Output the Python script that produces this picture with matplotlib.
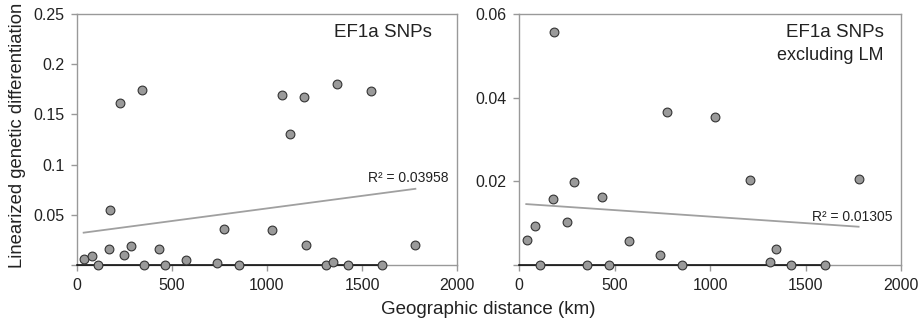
import matplotlib
matplotlib.use("Agg")
import matplotlib.pyplot as plt
import numpy as np

plt.rcParams['font.family'] = ['Liberation Sans', 'DejaVu Sans']

# Left panel: all EF1a SNPs
left_x = [35, 79, 109, 168, 175, 226, 249, 284, 344, 351, 432, 461, 574, 735,
          774, 851, 1026, 1081, 1119, 1196, 1207, 1311, 1349, 1368, 1428, 1547,
          1605, 1781]
left_y = [0.006, 0.0093, 0.0, 0.0156, 0.055, 0.161, 0.010, 0.019, 0.174, 0.0,
          0.016, 0.0, 0.0053, 0.0017, 0.0358, 0.0, 0.035, 0.169, 0.130, 0.1674,
          0.020, 0.0, 0.0033, 0.180, 0.0, 0.173, 0.0, 0.020]
left_trend_x = [35, 1781]
left_trend_y = [0.0322, 0.0759]
left_r2 = "R² = 0.03958"
left_ticks_y = [0.05, 0.1, 0.15, 0.2, 0.25]
left_ticklabels_y = ["0.05", "0.1", "0.15", "0.2", "0.25"]

# Right panel: excluding LM
right_x = [42, 86, 112, 176, 182, 253, 288, 355, 433, 470, 576, 737, 776, 854,
           1027, 1207, 1312, 1348, 1425, 1603, 1780]
right_y = [0.00605, 0.0094, 0.0, 0.0157, 0.0556, 0.0102, 0.0199, 0.0, 0.0162,
           0.0, 0.0058, 0.0025, 0.0366, 0.0, 0.0353, 0.0204, 0.0006, 0.0039,
           0.0, 0.0, 0.0206]
right_trend_x = [38, 1778]
right_trend_y = [0.01456, 0.00915]
right_r2 = "R² = 0.01305"
right_ticks_y = [0.02, 0.04, 0.06]
right_ticklabels_y = ["0.02", "0.04", "0.06"]

x_ticks = [0, 500, 1000, 1500, 2000]
zero_line_end = 1605

fig = plt.figure(figsize=(9.19, 3.26), dpi=100)
ax1 = fig.add_axes([77/919, 1 - 265/326, 380/919, 251/326])
ax2 = fig.add_axes([519/919, 1 - 265/326, 382/919, 251/326])

frame_col = '#999999'
text_col = '#222222'

def style(ax, ymax, yticks, ylabels):
    ax.set_xlim(0, 2000)
    ax.set_ylim(0, ymax)
    ax.set_xticks(x_ticks)
    ax.set_xticklabels([str(t) for t in x_ticks])
    ax.set_yticks([0] + yticks)
    ax.set_yticklabels([""] + ylabels)
    for s in ax.spines.values():
        s.set_color(frame_col)
        s.set_linewidth(1.0)
    ax.tick_params(direction='out', length=4, color=frame_col, width=1.0,
                   labelsize=11.5, labelcolor=text_col, pad=5)

def panel(ax, xs, ys, tx, ty, r2, r2x, r2y):
    ax.plot([0, zero_line_end], [0, 0], color='black', lw=1.1, zorder=2.7,
            clip_on=False)
    ax.plot(tx, ty, color='#a0a0a0', lw=1.3, zorder=2)
    ax.scatter(xs, ys, s=40, facecolor='#9a9a9a', edgecolor='#333333',
               linewidths=0.8, zorder=3, clip_on=False)
    ax.text(r2x, r2y, r2, ha='right', va='center', fontsize=10,
            color=text_col)

panel(ax1, left_x, left_y, left_trend_x, left_trend_y, left_r2, 1956, 0.0865)
style(ax1, 0.25, left_ticks_y, left_ticklabels_y)
ax1.text(0.934, 0.925, "EF1a SNPs", transform=ax1.transAxes, ha='right',
         va='center', fontsize=13.5, color=text_col)

panel(ax2, right_x, right_y, right_trend_x, right_trend_y, right_r2, 1958, 0.01146)
style(ax2, 0.06, right_ticks_y, right_ticklabels_y)
ax2.text(0.955, 0.928, "EF1a SNPs", transform=ax2.transAxes, ha='right',
         va='center', fontsize=13.5, color=text_col)
ax2.text(0.955, 0.835, "excluding LM", transform=ax2.transAxes, ha='right',
         va='center', fontsize=13, color=text_col)

fig.text(18/919, 1 - 135/326, "Linearized genetic differentiation", rotation=90,
         ha='center', va='center', fontsize=13.3, color=text_col)
fig.text(488/919, 1 - 309/326, "Geographic distance (km)", ha='center',
         va='center', fontsize=13.5, color=text_col)

fig.savefig("out.png", dpi=100)
